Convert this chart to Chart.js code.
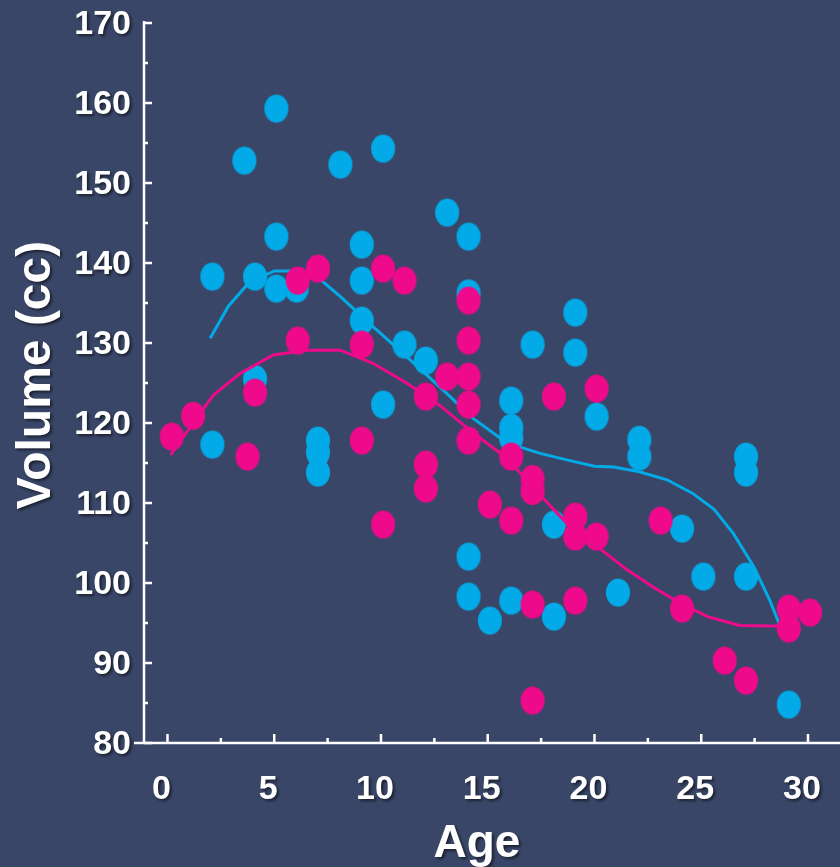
<!DOCTYPE html>
<html>
<head>
<meta charset="utf-8">
<script src="https://cdn.jsdelivr.net/npm/chart.js@4.4.1/dist/chart.umd.min.js"></script>
<style>
  html, body { margin: 0; padding: 0; background: #394668; }
  canvas { display: block; background: #394668; }
</style>
</head>
<body>
<canvas id="volumeChart" width="840" height="867"></canvas>
<script>
// Volume vs age scatter with smoothed fits

const blueAge = [2.1, 2.1, 3.6, 4.1, 4.1, 5.1, 5.1, 5.1, 6.05, 7.05, 7.05, 7.05, 8.1, 9.1, 9.1, 9.1, 10.1, 10.1, 11.1, 12.1, 13.1, 14.1, 14.1, 14.1, 14.1, 15.1, 16.1, 16.1, 16.1, 16.1, 17.1, 18.1, 18.1, 19.1, 19.1, 20.1, 21.1, 22.1, 22.1, 24.1, 25.1, 27.1, 27.1, 27.1, 29.1];
const blueVolume = [138.3, 117.3, 152.8, 138.3, 125.5, 159.3, 143.3, 136.8, 136.8, 117.8, 116.3, 113.8, 152.3, 142.3, 137.8, 132.8, 154.3, 122.3, 129.8, 127.8, 146.3, 143.3, 136.2, 103.3, 98.3, 95.3, 122.8, 119.4, 118.1, 97.8, 129.8, 107.3, 95.8, 133.8, 128.8, 120.8, 98.8, 117.9, 115.8, 106.8, 100.8, 115.8, 113.8, 100.8, 84.8];

const pinkAge = [0.2, 1.2, 3.75, 4.1, 6.1, 6.1, 7.05, 9.1, 9.1, 10.1, 10.1, 11.1, 12.1, 12.1, 12.1, 13.1, 14.1, 14.1, 14.1, 14.1, 14.1, 15.1, 16.1, 16.1, 17.1, 17.1, 17.1, 17.1, 18.1, 19.1, 19.1, 19.1, 20.1, 20.1, 23.1, 24.1, 26.1, 27.1, 29.1, 29.1, 30.1];
const pinkVolume = [118.3, 120.9, 115.8, 123.8, 137.8, 130.3, 139.3, 129.8, 117.8, 139.3, 107.3, 137.8, 123.3, 114.8, 111.8, 125.8, 135.3, 130.3, 125.8, 122.3, 117.8, 109.8, 115.8, 107.8, 113.0, 111.5, 97.3, 85.3, 123.3, 108.3, 105.8, 97.8, 124.3, 105.8, 107.8, 96.8, 90.3, 87.8, 96.8, 94.3, 96.3];

const blueFitAge = [2.0, 2.85, 3.8, 5.0, 6.05, 7.0, 8.1, 9.6, 11.2, 12.8, 14.3, 15.9, 17.45, 19.0, 20.0, 20.9, 22.1, 23.4, 24.6, 25.6, 26.5, 27.45, 28.2, 28.7, 29.05];
const blueFitVolume = [130.6, 134.6, 137.5, 139.0, 139.0, 138.3, 135.8, 132.1, 128.3, 124.4, 120.6, 117.5, 116.2, 115.2, 114.6, 114.5, 113.9, 112.9, 111.2, 109.2, 106.2, 102.1, 97.9, 94.6, 94.0];

const pinkFitAge = [0.15, 1.2, 2.15, 3.4, 4.95, 6.5, 8.1, 9.6, 11.2, 12.8, 14.3, 15.9, 16.5, 17.45, 18.55, 20.1, 21.5, 22.8, 24.0, 25.3, 26.8, 29.0];
const pinkFitVolume = [116.0, 120.0, 123.5, 126.2, 128.5, 129.1, 129.1, 127.5, 125.0, 122.1, 118.8, 115.6, 113.8, 111.0, 107.9, 104.6, 101.7, 99.4, 97.5, 95.8, 94.7, 94.6];

const xTickValues = [0, 2.5, 5, 7.5, 10, 12.5, 15, 17.5, 20, 22.5, 25, 27.5, 30];
const yTickValues = [80, 85, 90, 95, 100, 105, 110, 115, 120, 125, 130, 135, 140, 145, 150, 155, 160, 165, 170];

const BLUE = '#02ABE8';
const PINK = '#EE0A8B';
const FONT = "'Liberation Sans', Arial, sans-serif";

function toPoints(xs, ys) {
  return xs.map((x, i) => ({ x: x, y: ys[i] }));
}

// oval marker, the original figure is slightly stretched vertically
function makeDot(color) {
  const c = document.createElement('canvas');
  c.width = 26;
  c.height = 30;
  const g = c.getContext('2d');
  g.fillStyle = color;
  g.beginPath();
  g.ellipse(13, 15, 12, 14, 0, 0, Math.PI * 2);
  g.fill();
  return c;
}

function noShadow(ctx) {
  ctx.shadowColor = 'rgba(0,0,0,0)';
  ctx.shadowBlur = 0;
  ctx.shadowOffsetX = 0;
  ctx.shadowOffsetY = 0;
}

function textShadow(ctx) {
  ctx.shadowColor = 'rgba(0,0,0,0.55)';
  ctx.shadowBlur = 3;
  ctx.shadowOffsetX = 2;
  ctx.shadowOffsetY = 2;
}

const axesPlugin = {
  id: 'axesPlugin',
  beforeDraw(chart) {
    textShadow(chart.ctx);
  },
  beforeDatasetsDraw(chart) {
    const ctx = chart.ctx;
    const area = chart.chartArea;
    const xs = chart.scales.x;
    const ys = chart.scales.y;
    noShadow(ctx);
    ctx.save();
    ctx.strokeStyle = '#ffffff';
    ctx.lineWidth = 2.5;
    ctx.beginPath();
    ctx.moveTo(area.left, area.top - 2);
    ctx.lineTo(area.left, area.bottom);
    ctx.moveTo(area.left - 10, area.bottom);
    ctx.lineTo(chart.width, area.bottom);
    ctx.stroke();
    ctx.beginPath();
    xTickValues.forEach(v => {
      const px = xs.getPixelForValue(v);
      const len = v % 5 === 0 ? 9 : 5;
      ctx.moveTo(px, area.bottom);
      ctx.lineTo(px, area.bottom - len);
    });
    yTickValues.forEach(v => {
      const py = ys.getPixelForValue(v);
      const len = v % 10 === 0 ? 8 : 4;
      ctx.moveTo(area.left, py);
      ctx.lineTo(area.left + len, py);
    });
    ctx.stroke();
    ctx.restore();
  },
  afterDraw(chart) {
    const ctx = chart.ctx;
    ctx.save();
    textShadow(ctx);
    ctx.fillStyle = '#ffffff';
    ctx.textAlign = 'center';
    ctx.textBaseline = 'alphabetic';
    ctx.font = 'bold 46px ' + FONT;
    ctx.fillText('Age', 477, 857);
    ctx.translate(50, 375);
    ctx.rotate(-Math.PI / 2);
    ctx.font = 'bold 48px ' + FONT;
    ctx.fillText('Volume (cc)', 0, 0);
    ctx.restore();
  }
};

const ctx = document.getElementById('volumeChart').getContext('2d');
const volumeChart = new Chart(ctx, {
  type: 'scatter',
  data: {
    datasets: [
      {
        type: 'line',
        label: 'Fit (pink)',
        data: toPoints(pinkFitAge, pinkFitVolume),
        borderColor: PINK,
        borderWidth: 3,
        pointRadius: 0,
        tension: 0,
        fill: false,
        order: 0
      },
      {
        label: 'Pink',
        data: toPoints(pinkAge, pinkVolume),
        pointStyle: makeDot(PINK),
        pointRadius: 13,
        order: 1
      },
      {
        type: 'line',
        label: 'Fit (blue)',
        data: toPoints(blueFitAge, blueFitVolume),
        borderColor: BLUE,
        borderWidth: 3,
        pointRadius: 0,
        tension: 0,
        fill: false,
        order: 2
      },
      {
        label: 'Blue',
        data: toPoints(blueAge, blueVolume),
        pointStyle: makeDot(BLUE),
        pointRadius: 13,
        order: 3
      }
    ]
  },
  options: {
    responsive: false,
    animation: false,
    layout: {
      autoPadding: false,
      padding: { top: 23, left: 0, right: 0, bottom: 0 }
    },
    plugins: {
      legend: { display: false },
      tooltip: { enabled: false }
    },
    scales: {
      x: {
        type: 'linear',
        min: -1.1,
        max: 31.5,
        afterBuildTicks: function(scale) {
          scale.ticks = xTickValues.map(v => ({ value: v }));
        },
        afterFit: function(scale) {
          scale.height = 124;
          scale.paddingLeft = 0;
          scale.paddingRight = 0;
        },
        grid: { display: false, drawTicks: false },
        border: { display: false },
        ticks: {
          autoSkip: false,
          maxRotation: 0,
          padding: 26,
          labelOffset: -6,
          color: '#ffffff',
          font: { family: FONT, size: 34, weight: 'bold' },
          callback: function(value) {
            return value % 5 === 0 ? value : '';
          }
        }
      },
      y: {
        min: 80,
        max: 170,
        afterBuildTicks: function(scale) {
          scale.ticks = yTickValues.map(v => ({ value: v }));
        },
        afterFit: function(scale) {
          scale.width = 144;
          scale.paddingTop = 0;
          scale.paddingBottom = 0;
        },
        grid: { display: false, drawTicks: false },
        border: { display: false },
        ticks: {
          autoSkip: false,
          padding: 13,
          labelOffset: 2,
          color: '#ffffff',
          font: { family: FONT, size: 34, weight: 'bold' },
          callback: function(value) {
            return value % 10 === 0 ? value : '';
          }
        }
      }
    }
  },
  plugins: [axesPlugin]
});
</script>
</body>
</html>
